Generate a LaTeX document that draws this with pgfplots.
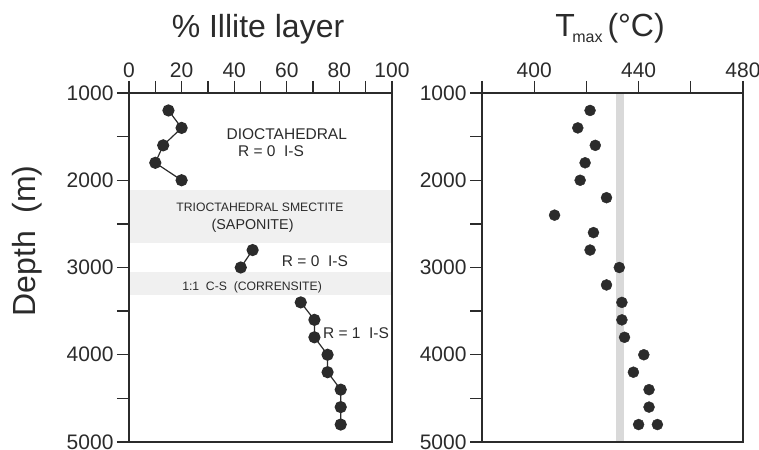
\documentclass[border=0pt]{standalone}
\usepackage{fontspec}
\setmainfont{Liberation Sans}
\usepackage{pgfplots}
\pgfplotsset{compat=1.18}
\definecolor{ink}{HTML}{2B2B2B}
\definecolor{band}{HTML}{F0F0F0}
\definecolor{vband}{HTML}{D9D9D9}
\pgfplotsset{common/.style={
  scale only axis, height=349pt,
  y dir=reverse, ymin=1000, ymax=5000,
  ytick={1000,2000,3000,4000,5000}, minor ytick={1500,2500,3500,4500},
  ytick pos=left, xtick pos=right, xticklabel pos=right,
  tick align=outside, major tick length=12pt, minor tick length=12pt,
  axis line style={ink, line width=1.6pt},
  tick style={ink, line width=1.3pt},
  tick label style={font=\fontsize{21}{24}\selectfont, text=ink},
  /pgf/number format/assume math mode=true,
  /pgf/number format/set thousands separator={},
  axis on top,
}}
\begin{document}
\begin{tikzpicture}
\path[use as bounding box] (0,0) rectangle (759pt,449pt);
\begin{axis}[common, width=263pt, at={(129pt,7pt)}, anchor=south west,
  xmin=0, xmax=100, xtick={0,20,...,100}, minor xtick={10,30,...,90}]
\fill[band] (axis cs:0,2110) rectangle (axis cs:100,2720);
\fill[band] (axis cs:0,3050) rectangle (axis cs:100,3310);
\addplot[ink, line width=1.2pt, mark=*, mark size=5.5pt, mark options={fill=ink, draw=ink}]
  coordinates {(15,1200)(20,1400)(13,1600)(10,1800)(20,2000)};
\addplot[ink, line width=1.2pt, mark=*, mark size=5.5pt, mark options={fill=ink, draw=ink}]
  coordinates {(47,2800)(42.5,3000)};
\addplot[ink, line width=1.2pt, mark=*, mark size=5.5pt, mark options={fill=ink, draw=ink}]
  coordinates {(65.3,3400)(70.5,3600)(70.5,3800)(75.5,4000)(75.5,4200)(80.5,4400)(80.5,4600)(80.5,4800)};
\node[text=ink, font=\fontsize{15.5}{18}\selectfont] at (axis cs:60,1470) {DIOCTAHEDRAL};
\node[text=ink, font=\fontsize{15.5}{18}\selectfont] at (axis cs:54,1665) {R = 0\ \ I-S};
\node[text=ink, font=\fontsize{12.2}{14}\selectfont] at (axis cs:49.8,2307) {TRIOCTAHEDRAL SMECTITE};
\node[text=ink, font=\fontsize{14.3}{17}\selectfont] at (axis cs:47,2524) {(SAPONITE)};
\node[text=ink, font=\fontsize{15.5}{18}\selectfont] at (axis cs:70.7,2926) {R = 0\ \ I-S};
\node[text=ink, font=\fontsize{12.2}{14}\selectfont] at (axis cs:46.8,3224) {1:1\ \ C-S\ \ (CORRENSITE)};
\node[text=ink, font=\fontsize{15.5}{18}\selectfont] at (axis cs:86.3,3751) {R = 1\ \ I-S};
\end{axis}
\begin{axis}[common, width=261pt, at={(482pt,7pt)}, anchor=south west,
  xmin=380, xmax=480, xtick={400,440,480}, minor xtick={380,420,460}]
\fill[vband] (axis cs:431.5,1000) rectangle (axis cs:434.5,5000);
\addplot[only marks, mark=*, mark size=5.5pt, mark options={fill=ink, draw=ink}]
  coordinates {(421.4,1200)(416.7,1400)(423.4,1600)(419.5,1800)(417.6,2000)
  (427.7,2200)(407.8,2400)(422.7,2600)(421.4,2800)(432.6,3000)(427.7,3200)
  (433.6,3400)(433.6,3600)(434.6,3800)(442,4000)(438,4200)(444,4400)(444,4600)
  (440,4800)(447.2,4800)};
\end{axis}
\node[text=ink, font=\fontsize{32}{36}\selectfont, anchor=base] at (258pt,411pt) {\% Illite layer};
\node[text=ink, font=\fontsize{32}{36}\selectfont, anchor=base] at (610pt,412pt)
  {T\kern-0.08em\raisebox{-6pt}{\fontsize{16}{16}\selectfont max}\hspace{5pt}(°C)};
\node[text=ink, font=\fontsize{32}{36}\selectfont, anchor=base, rotate=90] at (35pt,208pt) {Depth\ \ (m)};
\end{tikzpicture}
\end{document}
